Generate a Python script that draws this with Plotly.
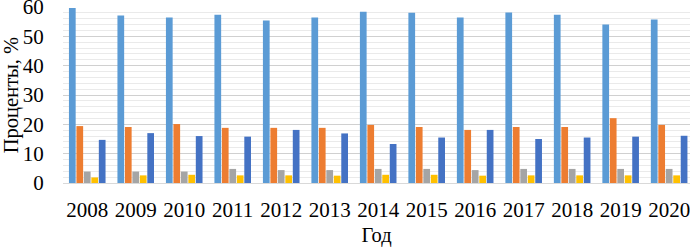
import plotly.graph_objects as go

years = ["2008", "2009", "2010", "2011", "2012", "2013", "2014",
         "2015", "2016", "2017", "2018", "2019", "2020"]
s1 = [59.7, 57.1, 56.4, 57.4, 55.4, 56.4, 58.4, 58.0, 56.4, 58.1, 57.4, 54.0, 55.7]
s2 = [19.4, 19.1, 20.1, 18.8, 18.8, 18.8, 19.8, 19.1, 18.1, 19.1, 19.1, 22.1, 19.8]
s3 = [3.9, 3.9, 3.9, 4.8, 4.4, 4.4, 4.8, 4.8, 4.4, 4.8, 4.8, 4.8, 4.8]
s4 = [1.9, 2.6, 2.8, 2.6, 2.6, 2.5, 2.8, 2.8, 2.5, 2.6, 2.6, 2.6, 2.6]
s5 = [14.7, 17.0, 16.0, 15.8, 18.1, 16.9, 13.3, 15.5, 18.1, 15.0, 15.5, 15.8, 16.1]

series = [s1, s2, s3, s4, s5]
colors = ["#5B9BD5", "#ED7D31", "#A5A5A5", "#FFC000", "#4472C4"]

fig = go.Figure()
for vals, c in zip(series, colors):
    fig.add_trace(go.Bar(x=years, y=vals, marker=dict(color=c, line=dict(width=0)),
                         showlegend=False))

font = dict(family="Liberation Serif, Times New Roman, serif", size=21, color="#000000")
tfont = dict(family="Liberation Serif, Times New Roman, serif", size=20.5, color="#000000")

fig.update_layout(
    width=690, height=248,
    margin=dict(l=63, r=0, t=7, b=65, autoexpand=False),
    paper_bgcolor="white", plot_bgcolor="white",
    barmode="group", bargap=0.23, bargroupgap=0.1,
    font=font,
    xaxis=dict(
        type="category",
        automargin=False,
        range=[-0.5, 12.43],
        showgrid=False,
        showline=True, linecolor="#D9D9D9", linewidth=1,
        ticks="outside", ticklen=8, tickcolor="rgba(0,0,0,0)",
        tickfont=font,
        title=dict(text="Год", font=tfont, standoff=6),
    ),
    yaxis=dict(
        automargin=False,
        range=[0, 60],
        dtick=10,
        showgrid=True, gridcolor="#D0D0D0", gridwidth=1,
        minor=dict(dtick=2, showgrid=True, gridcolor="#EAEAEA", gridwidth=1),
        zeroline=False,
        ticks="outside", ticklen=14, tickcolor="rgba(0,0,0,0)",
        ticklabeloverflow="allow",
        tickfont=font,
        title=dict(text="Проценты, %", font=tfont, standoff=12),
    ),
)

fig.write_html("out.html",
               config={"displayModeBar": False},
               post_script="document.body.style.margin='0';document.body.style.overflow='hidden';")
